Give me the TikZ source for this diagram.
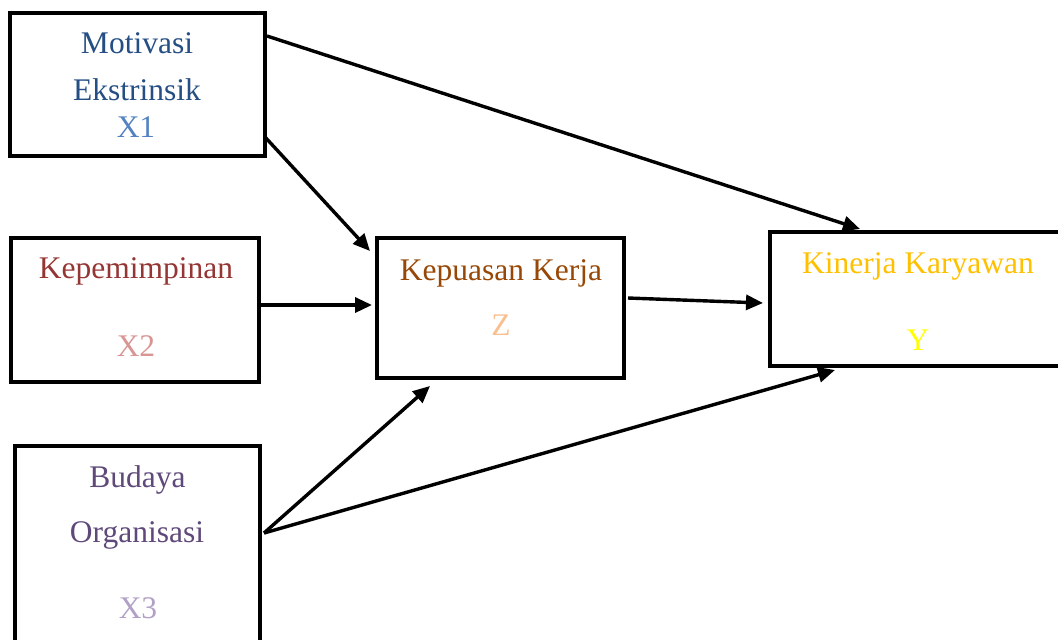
\documentclass[tikz,border=0pt]{standalone}
\usepackage{fontspec}
\setmainfont{Liberation Serif}
\usetikzlibrary{calc,arrows.meta}
\definecolor{cxa}{RGB}{37,79,132}
\definecolor{cxb}{RGB}{84,130,193}
\definecolor{cxc}{RGB}{148,54,52}
\definecolor{cxd}{RGB}{217,149,148}
\definecolor{cxe}{RGB}{95,73,122}
\definecolor{cxf}{RGB}{178,161,199}
\definecolor{cxg}{RGB}{152,72,6}
\definecolor{cxh}{RGB}{250,191,143}
\definecolor{cxi}{RGB}{255,192,0}
\definecolor{cxj}{RGB}{255,255,0}
\tikzset{
  box/.style={draw=black,line width=2pt,rectangle,inner sep=0pt},
  lbl/.style={anchor=base,inner sep=0pt,font=\fontsize{15.75}{19}\selectfont},
  conn/.style={line width=1.7pt,-{Triangle[length=8.5pt,width=7.5pt]}}
}
\begin{document}
\begin{tikzpicture}[x=0.5pt,y=-0.5pt]
\useasboundingbox (0,0) rectangle (1058,639);
\clip (0,0) rectangle (1058,639);
\fill[white] (0,0) rectangle (1058,639);
% boxes
\node[box,minimum width=127.5pt,minimum height=71.5pt] (x1) at (137.5,84.5) {};
\node[box,minimum width=124pt,minimum height=72pt] (x2) at (135,310) {};
\node[box,minimum width=122.5pt,minimum height=107pt] (x3) at (137.5,553) {};
\node[box,minimum width=123.5pt,minimum height=70pt] (z) at (500.5,308) {};
\node[box,minimum width=150pt,minimum height=67pt] (y) at (920,299) {};
% labels
\node[lbl,text=cxa] (t1a) at (137,53) {Motivasi};
\node[lbl,text=cxa] (t1b) at (137,100) {Ekstrinsik};
\node[lbl,text=cxb] (t1c) at (136,137) {X1};
\node[lbl,text=cxc] (t2a) at (136,278) {Kepemimpinan};
\node[lbl,text=cxd] (t2b) at (136,356) {X2};
\node[lbl,text=cxe] (t3a) at (137.5,487) {Budaya};
\node[lbl,text=cxe] (t3b) at (137,542) {Organisasi};
\node[lbl,text=cxf] (t3c) at (138,618) {X3};
\node[lbl,text=cxg] (tza) at (501,280) {Kepuasan Kerja};
\node[lbl,text=cxh] (tzb) at (501,335) {Z};
\node[lbl,text=cxi] (tya) at (918,273) {Kinerja Karyawan};
\node[lbl,text=cxj] (tyb) at (918,350) {Y};
% connectors
\draw[conn] ($(x1.east)+(0,-48.5)$) -- ($(y.north west)+(92,-1)$);
\draw[conn] ($(x1.east)+(-2,52.5)$) -- ($(z.north west)+(-5,15)$);
\draw[conn] ($(x2.east)+(0,-5)$) -- ($(z.west)+(-3,-3)$);
\draw[conn] ($(z.east)+(2,-10)$) -- ($(y.west)+(-5,4)$);
\coordinate (s3) at ($(x3.east)+(2,-20)$);
\draw[conn] (s3) -- ($(z.south west)+(55,6)$);
\draw[conn] (s3) -- ($(y.south west)+(67,2)$);
\end{tikzpicture}
\end{document}
